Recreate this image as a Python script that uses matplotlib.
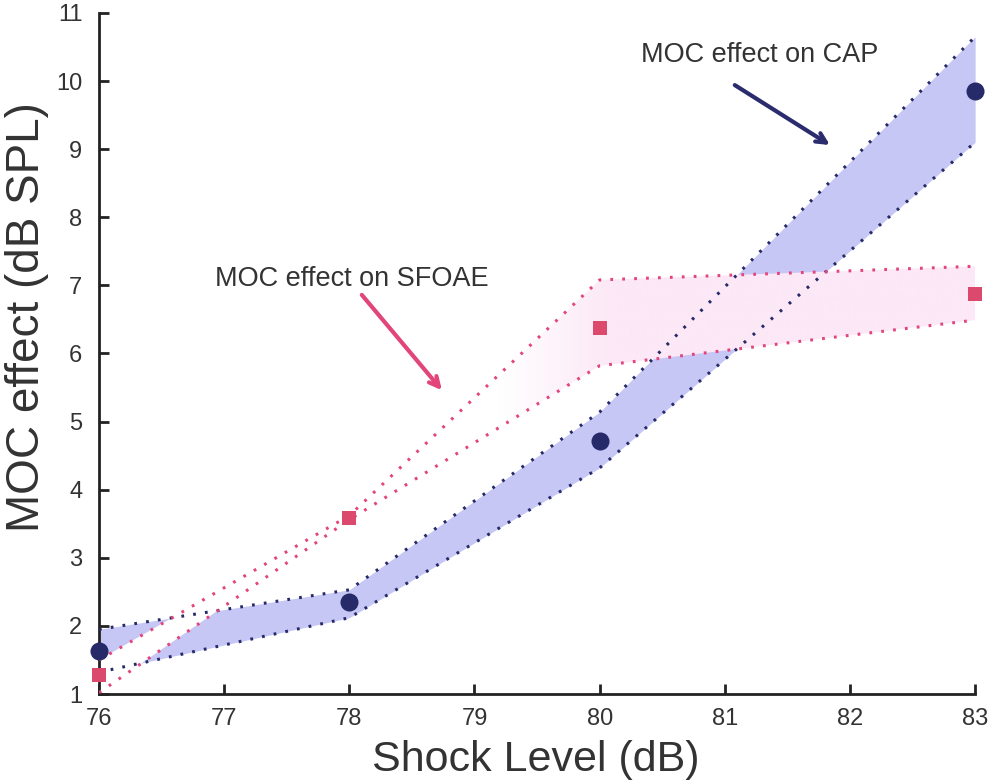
import numpy as np
import matplotlib
matplotlib.use("Agg")
import matplotlib.pyplot as plt
from matplotlib.colors import to_rgba

plt.rcParams['font.family'] = ['Liberation Sans', 'DejaVu Sans']

# Shock levels (dB)
shock_level = [76, 78, 80, 83]

# MOC effect on CAP (dB SPL): mean and band limits
cap_mean = [1.63, 2.35, 4.72, 9.85]
cap_upper = [1.95, 2.53, 5.14, 10.65]
cap_lower = [1.32, 2.12, 4.32, 9.10]

# MOC effect on SFOAE (dB SPL): mean and band limits
sfoae_mean = [1.28, 3.58, 6.37, 6.88]
sfoae_upper = [1.50, 3.62, 7.08, 7.28]
sfoae_lower = [1.02, 3.56, 5.82, 6.49]

x_ticks = [76, 77, 78, 79, 80, 81, 82, 83]
y_ticks = [1, 2, 3, 4, 5, 6, 7, 8, 9, 10, 11]

navy = '#262a68'
band_blue = '#c7c7f6'
pink = '#e2457a'
square_pink = '#db4a6c'
text_col = '#333333'

fig = plt.figure(figsize=(9.93, 7.82), dpi=100)
ax = fig.add_axes([0.0997, 0.1125, 0.8823, 0.871])
ax.set_xlim(76, 83)
ax.set_ylim(1, 11)

# CAP band
ax.fill_between(shock_level, cap_lower, cap_upper, color=band_blue,
                linewidth=0, zorder=1)

# SFOAE band: opaque fill shading from white to light pink
poly = ax.fill_between(shock_level, sfoae_lower, sfoae_upper,
                       facecolor='none', linewidth=0, zorder=2)
n = 256
xs = np.linspace(76, 83, n)
t = np.clip((xs - 79.2) / 0.9, 0, 1)
c0 = np.array(to_rgba('#ffffff'))
c1 = np.array(to_rgba('#fce8f6'))
grad = (c0[None, :] * (1 - t[:, None]) + c1[None, :] * t[:, None])[None, :, :]
img = ax.imshow(grad, extent=[76, 83, 1, 11], aspect='auto', origin='lower',
                zorder=2, interpolation='bilinear')
img.set_clip_path(poly.get_paths()[0], transform=ax.transData)

dots = (0, (0.9, 3.0))
for vals in (cap_upper, cap_lower):
    ax.plot(shock_level, vals, color=navy, lw=2.2, linestyle=dots, zorder=3)
for vals in (sfoae_upper, sfoae_lower):
    ax.plot(shock_level, vals, color=pink, lw=2.2, linestyle=dots, zorder=3)

ax.plot(shock_level, cap_mean, 'o', color=navy, markersize=13,
        markeredgewidth=0, zorder=5, clip_on=False)
ax.plot(shock_level, sfoae_mean, 's', color=square_pink, markersize=10,
        markeredgewidth=0, zorder=5, clip_on=False)

# Annotations
ax.annotate('', xy=(81.84, 9.06), xytext=(81.08, 9.94),
            arrowprops=dict(arrowstyle='->,head_length=0.7,head_width=0.35',
                            color='#2a2c6e', lw=3.0, shrinkA=0, shrinkB=0),
            zorder=6)
ax.text(81.28, 10.38, 'MOC effect on CAP', fontsize=19.5, color=text_col,
        ha='center', va='center', zorder=6)
ax.annotate('', xy=(78.74, 5.46), xytext=(78.10, 6.86),
            arrowprops=dict(arrowstyle='->,head_length=0.7,head_width=0.35',
                            color=pink, lw=3.0, shrinkA=0, shrinkB=0),
            zorder=6)
ax.text(78.02, 7.1, 'MOC effect on SFOAE', fontsize=19.5, color=text_col,
        ha='center', va='center', zorder=6)

# Axes styling
for side in ('top', 'right'):
    ax.spines[side].set_visible(False)
for side in ('left', 'bottom'):
    ax.spines[side].set_linewidth(2.0)
    ax.spines[side].set_color('#222222')
ax.set_xticks(x_ticks)
ax.set_yticks(y_ticks)
ax.tick_params(direction='in', length=7, width=2, colors='#222222',
               labelsize=17, labelcolor=text_col)
ax.tick_params(axis='x', pad=10)
ax.tick_params(axis='y', pad=12)

ax.set_xlabel('Shock Level (dB)', fontsize=31, color=text_col)
ax.set_ylabel('MOC effect (dB SPL)', fontsize=33, color=text_col)
ax.xaxis.set_label_coords(0.499, -0.068)
ax.yaxis.set_label_coords(-0.057, 0.553)

fig.savefig('out.png', dpi=100)
